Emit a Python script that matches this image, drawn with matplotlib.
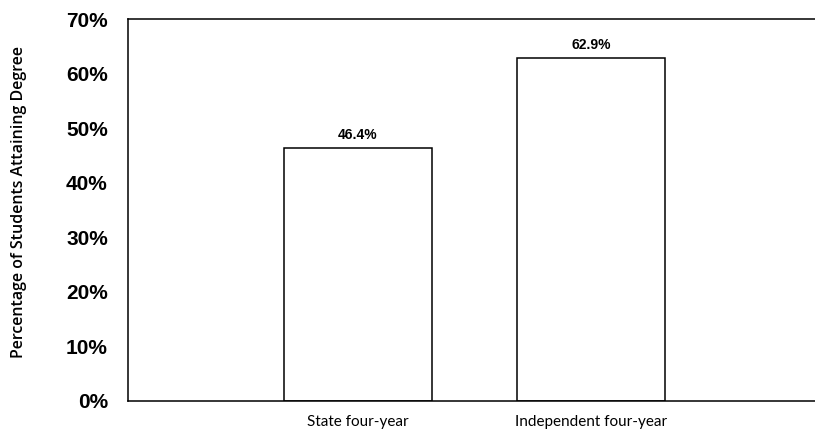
import matplotlib.pyplot as plt

# Degree attainment by institution type
categories = ["State four-year", "Independent four-year"]
values = [46.4, 62.9]
value_labels = ["46.4%", "62.9%"]
yticks = [0, 10, 20, 30, 40, 50, 60, 70]

narrow = ["Liberation Sans Narrow", "Liberation Sans"]

fig = plt.figure(figsize=(8.15, 4.33), dpi=100)
ax = fig.add_axes([0.157, 0.074, 0.843, 0.882])

x = list(range(len(categories)))
ax.bar(x, values, width=0.635, color="white", edgecolor="black", linewidth=1.1)

for xi, v, lab in zip(x, values, value_labels):
    ax.text(xi, v + 1.0, lab, ha="center", va="bottom", fontsize=10,
            fontweight="bold", family=narrow)

ax.set_xlim(-0.987, 1.961)
ax.set_ylim(0, 70)
ax.set_yticks(yticks)
ax.set_yticklabels([f"{t}%" for t in yticks], fontsize=15, fontweight="bold",
                   family=narrow)
ax.set_xticks(x)
ax.set_xticklabels(categories, fontsize=11, family="Lato")
ax.tick_params(axis="both", length=0)
ax.tick_params(axis="y", pad=14.5)
ax.tick_params(axis="x", pad=10)

ax.spines["right"].set_visible(False)
for s in ["left", "top", "bottom"]:
    ax.spines[s].set_linewidth(1.1)

ax.set_ylabel("Percentage of Students Attaining Degree", fontsize=11.5,
              family="Open Sans", fontweight="semibold")
ax.yaxis.set_label_coords(-0.147, 0.521)

fig.savefig("out.png", dpi=100)
